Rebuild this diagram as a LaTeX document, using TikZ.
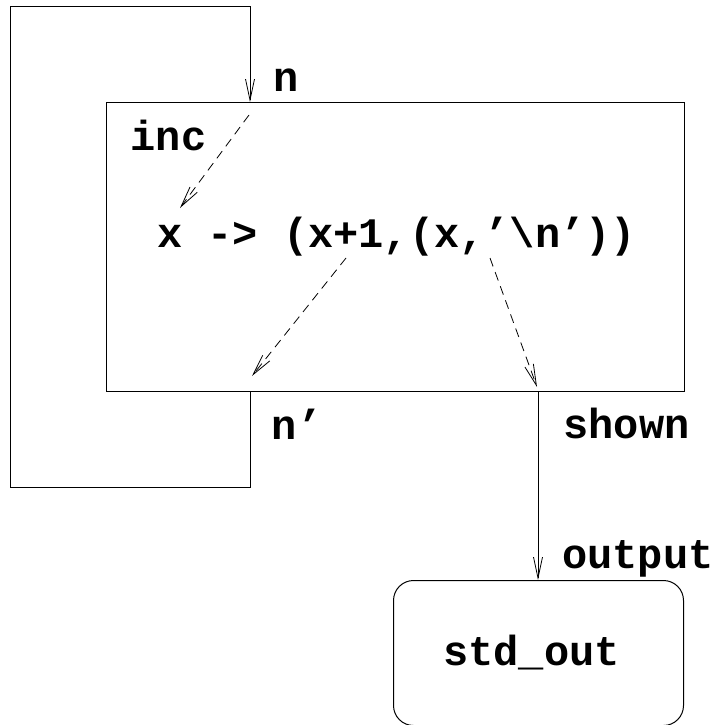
\documentclass[tikz,border=0pt]{standalone}
\usepackage{fontspec}
\newfontfamily\cour{Liberation Mono}
\usetikzlibrary{arrows.meta}
\begin{document}
\begin{tikzpicture}[x=1pt,y=-1pt,
  line width=1pt,
  arr/.style={-{Straight Barb[length=21pt,width=9pt,line width=0.8pt]}},
  dsh/.style={arr,line width=0.8pt,dash pattern=on 9pt off 6pt},
  lbl/.style={font=\cour\bfseries\fontsize{42}{50}\selectfont,inner sep=0pt,anchor=base}]
\useasboundingbox (0,0) rectangle (717,725);
% boxes
\node[draw,minimum width=578pt,minimum height=289pt,anchor=north west,inner sep=0pt] (inc) at (106,102) {};
\node[draw,rounded corners=20pt,minimum width=290pt,minimum height=145pt,anchor=north west,inner sep=0pt] (out) at (393,580) {};
% texts
\node[lbl] (fn) at (396.5,247) {x -> (x+1,(x,’\textbackslash n’))};
\node[lbl] (ln) at (286.5,91) {n};
\node[lbl] (linc) at (168.5,150) {inc};
\node[lbl] (lnp) at (297,439) {n’};
\node[lbl] (lshown) at (626.5,438) {shown};
\node[lbl] (loutput) at (638,568) {output};
\node[lbl] (lstd) at (531.5,665) {std\_out};
% loop
\coordinate (lb) at (250,391);
\coordinate (c1) at (250,487);
\coordinate (c2) at (10,487);
\coordinate (c3) at (10,7);
\coordinate (c4) at (250,7);
\coordinate (lt) at (250,102);
\draw[arr] (lb) -- (c1) -- (c2) -- (c3) -- (c4) -- (lt);
% dashed inner arrows
\coordinate (d1s) at (249,115);
\coordinate (d1e) at (180,208);
\coordinate (d2s) at (346,258);
\coordinate (d2e) at (252,376);
\coordinate (d3s) at (490,258);
\coordinate (d3e) at (537,387);
\draw[dsh] (d1s) -- (d1e);
\draw[dsh] (d2s) -- (d2e);
\draw[dsh] (d3s) -- (d3e);
% output
\coordinate (os) at (538,391);
\draw[arr] (os) -- (os |- out.north);
\end{tikzpicture}
\end{document}
